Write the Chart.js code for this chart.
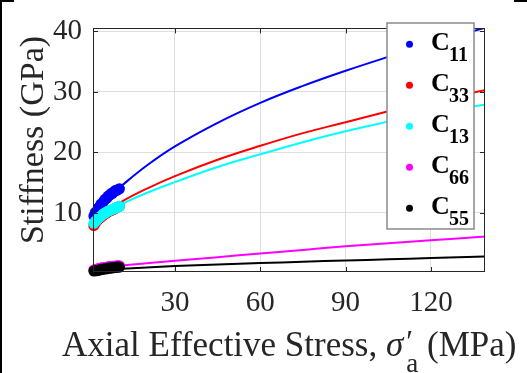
<!DOCTYPE html>
<html>
<head>
<meta charset="utf-8">
<script src="https://cdn.jsdelivr.net/npm/chart.js@4"></script>
<style>
  body { margin: 0; background: #fff; }
</style>
</head>
<body>
<canvas id="grafico" width="527" height="373"></canvas>
<script>
// datos
const xTicks = [30, 60, 90, 120];
const yTicks = [10, 20, 30, 40];

const etiquetas = ['C', 'C', 'C', 'C', 'C'];
const subindices = ['11', '33', '13', '66', '55'];
const colores = ['#0000ff', '#ff0000', '#00ffff', '#ff00ff', '#000000'];

// puntos medidos
const xPuntos = [1.5, 2, 2.5, 3, 3.5, 4, 4.5, 5, 5.5, 6, 6.5, 7, 7.5, 8, 8.5, 9, 9.5, 10, 10.5];
const c11Puntos = [9.5, 10.1, 10.2, 10.8, 11.0, 11.5, 11.5, 12.0, 12.3, 12.4, 12.8, 12.9, 13.2, 13.2, 13.5, 13.7, 13.7, 13.9, 14.0];
const c33Puntos = [7.9, 8.3, 8.6, 8.9, 9.1, 9.3, 9.5, 9.7, 9.9, 10.0, 10.2, 10.3, 10.4, 10.5, 10.6, 10.8, 10.9, 11.0, 11.1];
const c13Puntos = [8.3, 8.6, 8.8, 9.1, 9.3, 9.5, 9.7, 9.9, 10.0, 10.2, 10.3, 10.4, 10.5, 10.6, 10.7, 10.8, 10.9, 11.0, 11.1];
const c66Puntos = [0.6, 0.7, 0.7, 0.8, 0.85, 0.9, 0.95, 1.0, 1.0, 1.05, 1.1, 1.1, 1.15, 1.2, 1.2, 1.25, 1.25, 1.3, 1.3];
const c55Puntos = [0.4, 0.5, 0.45, 0.6, 0.55, 0.7, 0.65, 0.75, 0.8, 0.75, 0.9, 0.85, 0.95, 0.9, 1.0, 1.05, 1.0, 1.1, 1.05];

// curvas de ajuste
const xAjuste = [1.2, 5, 11, 20, 30, 45, 60, 75, 90, 105, 120, 139];
const c11Ajuste = [9.4, 12.0, 14.4, 17.8, 21.0, 24.9, 28.2, 31.0, 33.5, 35.8, 38.0, 40.6];
const c33Ajuste = [7.6, 9.9, 11.8, 14.0, 16.1, 18.8, 21.1, 23.2, 25.0, 26.8, 28.5, 30.3];
const c13Ajuste = [8.1, 9.8, 11.4, 13.3, 15.1, 17.6, 19.7, 21.7, 23.5, 25.1, 26.6, 27.9];
const c66Ajuste = [0.6, 0.95, 1.3, 1.7, 2.1, 2.7, 3.3, 3.9, 4.5, 5.0, 5.5, 6.1];
const c55Ajuste = [0.35, 0.6, 0.8, 1.0, 1.23, 1.5, 1.72, 1.95, 2.15, 2.35, 2.55, 2.8];

const puntos = [c11Puntos, c33Puntos, c13Puntos, c66Puntos, c55Puntos];
const ajustes = [c11Ajuste, c33Ajuste, c13Ajuste, c66Ajuste, c55Ajuste];

function pares(xs, ys){
    return xs.map((x, i) => ({x: x, y: ys[i]}));
}

const FUENTE = "'Liberation Serif', 'Times New Roman', serif";
const GRIS = '#262626';

// orden de dibujo: el primero queda encima
let datasets = [];
const ordenPuntos = [4, 3, 2, 1, 0];
ordenPuntos.forEach(i => {
    datasets.push({
        label: etiquetas[i] + subindices[i],
        data: pares(xPuntos, puntos[i]),
        backgroundColor: colores[i],
        borderColor: colores[i],
        pointRadius: 5.5,
        pointBorderWidth: 0,
        showLine: false,
        clip: false
    });
});
ordenPuntos.forEach(i => {
    datasets.push({
        label: 'ajuste ' + subindices[i],
        data: pares(xAjuste, ajustes[i]),
        borderColor: colores[i],
        backgroundColor: colores[i],
        borderWidth: 2,
        pointRadius: 0,
        showLine: true,
        tension: 0.4
    });
});

const extras = {
    id: 'extras',
    afterDraw(chart){
        const ctx = chart.ctx;
        const a = chart.chartArea;
        const sx = chart.scales.x, sy = chart.scales.y;
        ctx.save();

        // marco del eje
        ctx.strokeStyle = GRIS;
        ctx.lineWidth = 1;
        ctx.strokeRect(Math.round(a.left) + 0.5, Math.round(a.top) + 0.5,
            Math.round(a.right - a.left) - 1, Math.round(a.bottom - a.top) - 1);
        ctx.beginPath();
        xTicks.forEach(v => {
            const p = Math.round(sx.getPixelForValue(v)) + 0.5;
            ctx.moveTo(p, a.bottom); ctx.lineTo(p, a.bottom - 5);
            ctx.moveTo(p, a.top); ctx.lineTo(p, a.top + 5);
        });
        yTicks.forEach(v => {
            const p = Math.round(sy.getPixelForValue(v)) + 0.5;
            ctx.moveTo(a.left, p); ctx.lineTo(a.left + 5, p);
            ctx.moveTo(a.right, p); ctx.lineTo(a.right - 5, p);
        });
        ctx.stroke();

        // leyenda
        ctx.fillStyle = '#fff';
        ctx.fillRect(387, 23, 87, 206);
        ctx.strokeStyle = '#8a8a8a';
        ctx.lineWidth = 1.5;
        ctx.strokeRect(387, 23, 87, 206);
        for (let i = 0; i < 5; i++){
            const y = 44.3 + i * 41;
            ctx.fillStyle = colores[i];
            ctx.beginPath();
            ctx.arc(409.5, y, 3.5, 0, Math.PI * 2);
            ctx.fill();
            ctx.fillStyle = '#000';
            ctx.textAlign = 'left';
            ctx.textBaseline = 'alphabetic';
            ctx.font = 'bold 26px ' + FUENTE;
            ctx.fillText(etiquetas[i], 431, y + 5.7);
            ctx.font = 'bold 20px ' + FUENTE;
            ctx.fillText(subindices[i], 449, y + 16.7);
        }

        // titulo eje x
        ctx.fillStyle = GRIS;
        let x = 62;
        const base = 356;
        ctx.font = '35px ' + FUENTE;
        const t1 = 'Axial Effective Stress, ';
        ctx.fillText(t1, x, base);
        x += ctx.measureText(t1).width;
        ctx.font = 'italic 35px ' + FUENTE;
        ctx.fillText('\u03c3', x, base);
        x += ctx.measureText('\u03c3').width + 3;
        ctx.font = '31px ' + FUENTE;
        ctx.fillText('\u2032', x, base - 4);
        ctx.font = '27px ' + FUENTE;
        ctx.fillText('a', x, 372);
        x += ctx.measureText('a').width;
        ctx.font = '35px ' + FUENTE;
        ctx.fillText(' (MPa)', x, base);

        // titulo eje y
        ctx.font = '34px ' + FUENTE;
        ctx.translate(43, 140);
        ctx.rotate(-Math.PI / 2);
        ctx.textAlign = 'center';
        ctx.fillText('Stiffness (GPa)', 0, 0);
        ctx.restore();

        // restos del marco de la figura
        ctx.fillStyle = '#000';
        ctx.fillRect(0, 0, 2, 373);
        ctx.fillRect(0, 0, 14, 2);
        ctx.fillRect(514, 0, 13, 2);
    }
};

new Chart(document.getElementById('grafico').getContext('2d'), {
    type: 'scatter',
    data: { datasets: datasets },
    options: {
        responsive: false,
        animation: false,
        devicePixelRatio: 1,
        layout: { padding: { top: 13, right: 42, left: 0, bottom: 0 } },
        plugins: {
            legend: { display: false },
            tooltip: { enabled: false }
        },
        scales: {
            x: {
                type: 'linear',
                min: 1.2,
                max: 139,
                afterBuildTicks: s => { s.ticks = xTicks.map(v => ({value: v})); },
                afterFit: s => { s.height = 101; },
                grid: { color: '#dedede', drawTicks: false },
                border: { display: false },
                ticks: {
                    padding: 14,
                    color: GRIS,
                    maxRotation: 0,
                    font: { family: FUENTE, size: 29 }
                }
            },
            y: {
                type: 'linear',
                min: 0.25,
                max: 40.5,
                afterBuildTicks: s => { s.ticks = yTicks.map(v => ({value: v})); },
                afterFit: s => { s.width = 93; },
                grid: { color: '#dedede', drawTicks: false },
                border: { display: false },
                ticks: {
                    padding: 11,
                    color: GRIS,
                    font: { family: FUENTE, size: 29 }
                }
            }
        }
    },
    plugins: [extras]
});
</script>
</body>
</html>
